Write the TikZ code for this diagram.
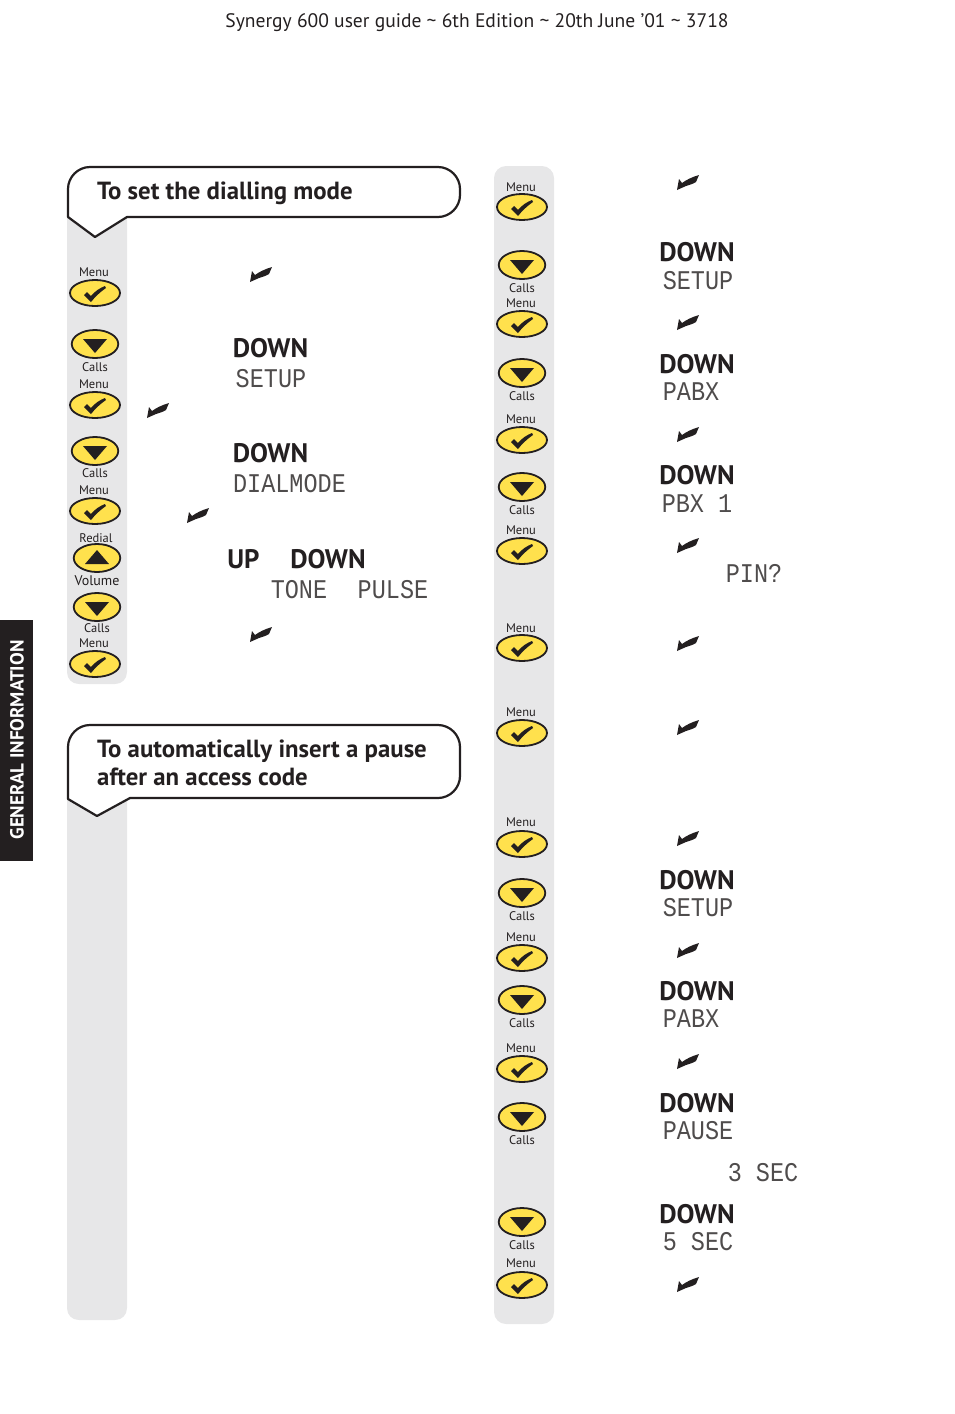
\documentclass[tikz,border=0pt]{standalone}
\usepackage{fontspec}
\setmainfont{PT Sans}
\newfontfamily\lcdfont{Liberation Mono}
\usetikzlibrary{shapes.geometric}
\definecolor{ink}{HTML}{231F20}
\definecolor{barg}{HTML}{E7E7E8}
\definecolor{btny}{HTML}{FFE14D}
\tikzset{
  bar/.style={fill=barg,draw=none},
  callout/.style={draw=ink,line width=2.2pt,fill=white,line join=round},
  title/.style={text=ink,anchor=west,font=\fontsize{24.8}{28}\selectfont\bfseries,align=left,inner sep=0pt},
  keyword/.style={text=ink,font=\fontsize{26.8}{28}\selectfont\bfseries,inner sep=0pt},
  lcd/.style={text=ink!80,font=\fontsize{23.5}{26}\lcdfont,inner sep=0pt,yscale=1.15,transform shape},
  lbl/.style={text=ink,font=\fontsize{12.5}{14}\selectfont,inner sep=0pt},
  tickbtn/.style={ellipse,draw=ink,line width=1.8pt,fill=btny,minimum width=50pt,minimum height=26pt,inner sep=0pt},
  arrbtn/.style={ellipse,draw=ink,line width=1.8pt,fill=btny,minimum width=46.5pt,minimum height=28pt,inner sep=0pt},
  glyph/.style={fill=ink,draw=none},
}
\newcommand{\tickb}[3]{%
  \node[tickbtn] (#1) at (#2,#3) {};
  \fill[glyph,shift={(#1.center)}] (-11,2) -- (-8,-1) -- (-4,3) .. controls (0,-2) and (5,-5) .. (10,-7) -- (11,-5) .. controls (5,-1) and (0,4) .. (-4,9) -- cycle;}
\newcommand{\downb}[3]{%
  \node[arrbtn] (#1) at (#2,#3) {};
  \fill[glyph,shift={(#1.center)}] (-12,-5) -- (12,-5) -- (0,9) -- cycle;}
\newcommand{\upb}[3]{%
  \node[arrbtn] (#1) at (#2,#3) {};
  \fill[glyph,shift={(#1.center)}] (-12,6) -- (12,6) -- (0,-8) -- cycle;}
\newcommand{\inktick}[3]{%
  \coordinate (#1) at (#2,#3);
  \fill[glyph,shift={(#1)}] (-11,8) -- (-9,-3) -- (-6,1) .. controls (-2,-2) and (4,-5) .. (11,-7) -- (8,0) .. controls (5,2) and (1,3) .. (-2,4) -- cycle;}
\begin{document}
\begin{tikzpicture}[x=1pt,y=-1pt]
\useasboundingbox (0,0) rectangle (954,1414);
\node[text=ink,font=\fontsize{19.55}{22}\selectfont,inner sep=0pt] (header) at (477,23) {Synergy 600 user guide \textasciitilde{} 6th Edition \textasciitilde{} 20th June ’01 \textasciitilde{} 3718};
% side tab
\fill[ink] (0,620) rectangle (33,861);
\node[text=white,rotate=90,font=\fontsize{19}{20}\selectfont\bfseries,inner sep=0pt] (tab) at (17,740) {GENERAL INFORMATION};
% grey bars
\fill[bar] (67,200) -- (127,200) -- (127,672) .. controls (127,679) and (122,684) .. (115,684) -- (79,684) .. controls (72,684) and (67,679) .. (67,672) -- cycle;
\fill[bar] (67,780) -- (127,780) -- (127,1308) .. controls (127,1315) and (122,1320) .. (115,1320) -- (79,1320) .. controls (72,1320) and (67,1315) .. (67,1308) -- cycle;
\fill[bar,rounded corners=12pt] (494,166) rectangle (554,1324);
% callouts
\draw[callout] (68,217) -- (68,189) .. controls (68,177) and (78,167) .. (90,167) -- (438,167) .. controls (450,167) and (460,177) .. (460,189) -- (460,195) .. controls (460,207) and (450,217) .. (438,217) -- (127,217) -- (95,237) -- cycle;
\draw[callout] (68,799) -- (68,747) .. controls (68,735) and (78,725) .. (90,725) -- (438,725) .. controls (450,725) and (460,735) .. (460,747) -- (460,776) .. controls (460,788) and (450,798) .. (438,798) -- (130,798) -- (97,816) -- cycle;
\node[title] (t1) at (97,193) {To set the dialling mode};
\node[title,anchor=north west] (t2) at (97,740) {To automatically insert a pause\\after an access code};
% left buttons
\node[lbl] (l1) at (94,272) {Menu}; \tickb{b1}{95}{293}
\downb{b2}{95}{344} \node[lbl] (l2) at (95,367) {Calls};
\node[lbl] (l3) at (94,384) {Menu}; \tickb{b3}{95}{405}
\downb{b4}{95}{451} \node[lbl] (l4) at (95,473) {Calls};
\node[lbl] (l5) at (94,490) {Menu}; \tickb{b5}{95}{511}
\node[lbl] (l6) at (96,538) {Redial}; \upb{b6}{97}{558}
\node[lbl,font=\fontsize{14}{16}\selectfont] (l7) at (97,581) {Volume};
\downb{b7}{97}{607} \node[lbl] (l8) at (97,628) {Calls};
\node[lbl] (l9) at (94,643) {Menu}; \tickb{b8}{95}{664}
% right buttons
\node[lbl] (r1) at (521,187) {Menu}; \tickb{c1}{522}{207}
\downb{c2}{522}{265} \node[lbl] (r2) at (522,288) {Calls};
\node[lbl] (r3) at (521,303) {Menu}; \tickb{c3}{522}{324}
\downb{c4}{522}{373} \node[lbl] (r4) at (522,396) {Calls};
\node[lbl] (r5) at (521,419) {Menu}; \tickb{c5}{522}{440}
\downb{c6}{522}{487} \node[lbl] (r6) at (522,510) {Calls};
\node[lbl] (r7) at (521,530) {Menu}; \tickb{c7}{522}{551}
\node[lbl] (r8) at (521,628) {Menu}; \tickb{c8}{522}{648}
\node[lbl] (r9) at (521,712) {Menu}; \tickb{c9}{522}{733}
\node[lbl] (r10) at (521,822) {Menu}; \tickb{c10}{522}{844}
\downb{c11}{522}{893} \node[lbl] (r11) at (522,916) {Calls};
\node[lbl] (r12) at (521,937) {Menu}; \tickb{c12}{522}{958}
\downb{c13}{522}{1000} \node[lbl] (r13) at (522,1023) {Calls};
\node[lbl] (r14) at (521,1048) {Menu}; \tickb{c14}{522}{1069}
\downb{c15}{522}{1117} \node[lbl] (r15) at (522,1140) {Calls};
\downb{c16}{522}{1222} \node[lbl] (r16) at (522,1245) {Calls};
\node[lbl] (r17) at (521,1263) {Menu}; \tickb{c17}{522}{1285}
% ink ticks
\inktick{i1}{261}{274} \inktick{i2}{158}{410} \inktick{i3}{198}{515} \inktick{i4}{261}{634}
\inktick{j1}{688}{182} \inktick{j2}{688}{322} \inktick{j3}{688}{434} \inktick{j4}{688}{545}
\inktick{j5}{688}{643} \inktick{j6}{688}{727} \inktick{j7}{688}{838} \inktick{j8}{688}{950}
\inktick{j9}{688}{1061} \inktick{j10}{688}{1284}
% left words
\node[keyword] (k1) at (270.5,348) {DOWN};
\node[lcd] (d1) at (271,379) {SETUP};
\node[keyword] (k2) at (270.5,453) {DOWN};
\node[lcd] (d2) at (289.5,484) {DIALMODE};
\node[keyword] (k3) at (243.5,559) {UP};
\node[keyword] (k4) at (328,559) {DOWN};
\node[lcd] (d3) at (299,590) {TONE};
\node[lcd] (d4) at (393,590) {PULSE};
% right words
\node[keyword] (k5) at (697,252) {DOWN};
\node[lcd] (d5) at (698,281) {SETUP};
\node[keyword] (k6) at (697,364) {DOWN};
\node[lcd] (d6) at (691,392) {PABX};
\node[keyword] (k7) at (697,475) {DOWN};
\node[lcd] (d7) at (697,504) {PBX 1};
\node[lcd] (d8) at (754,573) {PIN?};
\node[keyword] (k8) at (697,880) {DOWN};
\node[lcd] (d9) at (698,908) {SETUP};
\node[keyword] (k9) at (697,991) {DOWN};
\node[lcd] (d10) at (691,1019) {PABX};
\node[keyword] (k10) at (697,1103) {DOWN};
\node[lcd] (d11) at (698,1131) {PAUSE};
\node[lcd] (d12) at (763,1173) {3 SEC};
\node[keyword] (k11) at (697,1214) {DOWN};
\node[lcd] (d13) at (698,1242) {5 SEC};
\end{tikzpicture}
\end{document}
